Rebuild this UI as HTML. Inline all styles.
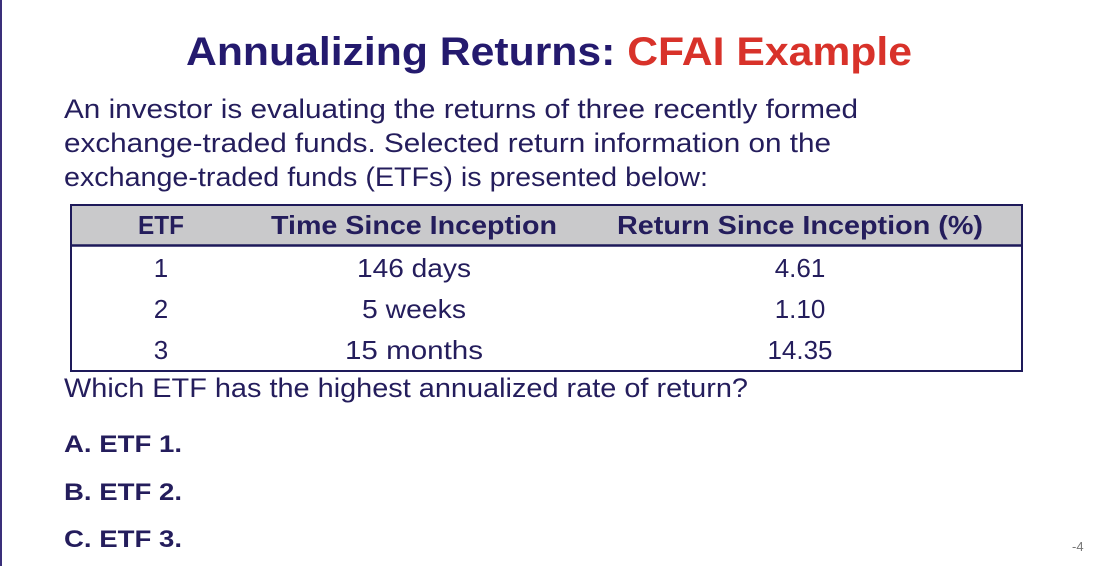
<!DOCTYPE html>
<html><head><meta charset="utf-8"><style>
html,body{margin:0;padding:0;background:#fff;width:1094px;height:566px;overflow:hidden}
svg{display:block}
text{font-family:"Liberation Sans",sans-serif;fill:#241d5c}
</style></head><body>
<svg width="1094" height="566">
<rect x="0" y="0" width="2" height="566" fill="#3a2f7a"/>
<text x="186" y="65" font-size="40" font-weight="bold" textLength="726" lengthAdjust="spacingAndGlyphs"><tspan fill="#241a6e">Annualizing Returns: </tspan><tspan fill="#d8322a">CFAI Example</tspan></text>
<g font-size="27">
<text x="64" y="118" textLength="794" lengthAdjust="spacingAndGlyphs">An investor is evaluating the returns of three recently formed</text>
<text x="64" y="152" textLength="767" lengthAdjust="spacingAndGlyphs">exchange-traded funds. Selected return information on the</text>
<text x="64" y="186" textLength="644" lengthAdjust="spacingAndGlyphs">exchange-traded funds (ETFs) is presented below:</text>
</g>
<g>
<rect x="71" y="205" width="951" height="40" fill="#c9c9cb"/>
<rect x="71" y="205" width="951" height="166" fill="none" stroke="#1e1a5a" stroke-width="2"/>
<line x1="71" y1="245.5" x2="1022" y2="245.5" stroke="#1e1a5a" stroke-width="2.5"/>
<g font-size="26" font-weight="bold" text-anchor="middle">
<text x="161" y="234" textLength="46" lengthAdjust="spacingAndGlyphs">ETF</text>
<text x="414" y="234" textLength="286" lengthAdjust="spacingAndGlyphs">Time Since Inception</text>
<text x="800" y="234" textLength="366" lengthAdjust="spacingAndGlyphs">Return Since Inception (%)</text>
</g>
<g font-size="26" text-anchor="middle">
<text x="161" y="277">1</text><text x="414" y="277" textLength="114" lengthAdjust="spacingAndGlyphs">146 days</text><text x="800" y="277">4.61</text>
<text x="161" y="318">2</text><text x="414" y="318" textLength="104" lengthAdjust="spacingAndGlyphs">5 weeks</text><text x="800" y="318">1.10</text>
<text x="161" y="359">3</text><text x="414" y="359" textLength="138" lengthAdjust="spacingAndGlyphs">15 months</text><text x="800" y="359">14.35</text>
</g>
</g>
<text x="64" y="397" font-size="27" textLength="684" lengthAdjust="spacingAndGlyphs">Which ETF has the highest annualized rate of return?</text>
<g font-size="24" font-weight="bold">
<text x="64" y="452" textLength="118" lengthAdjust="spacingAndGlyphs">A.  ETF 1.</text>
<text x="64" y="500" textLength="118" lengthAdjust="spacingAndGlyphs">B.  ETF 2.</text>
<text x="64" y="547" textLength="118" lengthAdjust="spacingAndGlyphs">C.  ETF 3.</text>
</g>
<text x="1072" y="551" font-size="13" style="fill:#777">-4</text>
</svg>
</body></html>
